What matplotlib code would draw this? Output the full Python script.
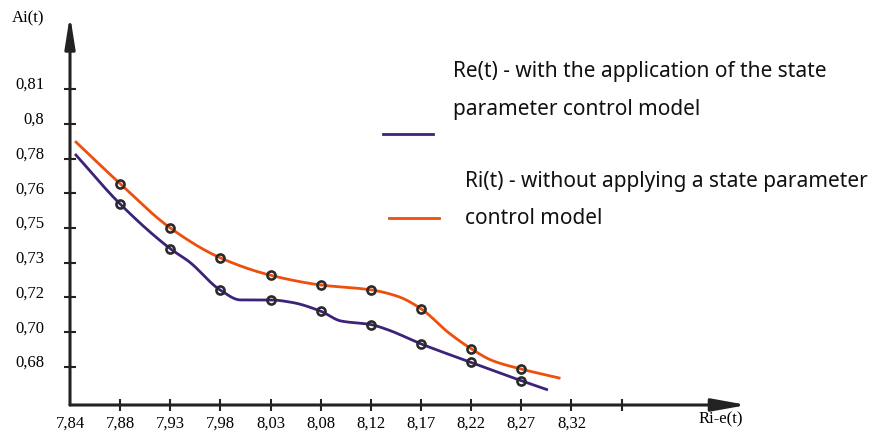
import numpy as np
import matplotlib
matplotlib.use("Agg")
import matplotlib.pyplot as plt
from matplotlib.lines import Line2D
from matplotlib.transforms import ScaledTranslation

# axis ticks (the original sketch spaces them evenly)
x_ticks = [7.84, 7.88, 7.93, 7.98, 8.03, 8.08, 8.12, 8.17, 8.22, 8.27, 8.32, 8.37]
x_labels = ['7,84', '7,88', '7,93', '7,98', '8,03', '8,08', '8,12', '8,17', '8,22', '8,27', '8,32', '']
y_ticks = [0.68, 0.70, 0.72, 0.73, 0.75, 0.76, 0.78, 0.80, 0.81]
y_labels = ['0,68', '0,70', '0,72', '0,73', '0,75', '0,76', '0,78', '0,8', '0,81']

# marked points
pts_x = [7.88, 7.93, 7.98, 8.03, 8.08, 8.12, 8.17, 8.22, 8.27]
ri_pts = [0.7655, 0.750, 0.7328, 0.7264, 0.7236, 0.7222, 0.7135, 0.6905, 0.6788]
re_pts = [0.7569, 0.7381, 0.7221, 0.7186, 0.7121, 0.7044, 0.6933, 0.6826, 0.6721]

# points (with the free ends)
ri_x = [7.844, 7.88, 7.93, 7.98, 8.03, 8.08, 8.12, 8.147, 8.17, 8.198, 8.22, 8.241, 8.27, 8.309]
ri_y = [0.790, 0.7655, 0.750, 0.7328, 0.7264, 0.7236, 0.7222, 0.7203, 0.7135, 0.6995, 0.6905, 0.6837, 0.6788, 0.6735]
re_x = [7.844, 7.88, 7.93, 7.949, 7.98, 8.0, 8.03, 8.051, 8.08, 8.096, 8.12, 8.137, 8.17, 8.22, 8.27, 8.2965]
re_y = [0.7826, 0.7569, 0.7381, 0.7305, 0.7221, 0.7186, 0.7186, 0.7172, 0.7121, 0.7065, 0.7044, 0.7014, 0.6933, 0.6826, 0.6721, 0.6668]

orange = '#ef4f0c'
purple = '#3c2279'
axis_c = '#222222'
W, H = 872, 432


def piecewise(v, xp, fp):
    # linear between the ticks, extended with the end slopes
    v = np.asarray(v, float)
    lo = fp[0] + (v - xp[0]) * (fp[1] - fp[0]) / (xp[1] - xp[0])
    hi = fp[-1] + (v - xp[-1]) * (fp[-1] - fp[-2]) / (xp[-1] - xp[-2])
    return np.where(v < xp[0], lo, np.where(v > xp[-1], hi, np.interp(v, xp, fp)))


x_idx = np.arange(len(x_ticks), dtype=float)
y_idx = np.arange(len(y_ticks), dtype=float)
fwd_x = lambda v: piecewise(v, x_ticks, x_idx)
inv_x = lambda p: piecewise(p, x_idx, x_ticks)
fwd_y = lambda v: piecewise(v, y_ticks, y_idx)
inv_y = lambda p: piecewise(p, y_idx, y_ticks)


def pchip(x, y, n=25):
    # monotone cubic, only for drawing a smooth line through the read points
    x = np.asarray(x, float); y = np.asarray(y, float)
    h = np.diff(x); d = np.diff(y) / h
    m = np.zeros_like(x)
    m[0], m[-1] = d[0], d[-1]
    for k in range(1, len(x) - 1):
        if d[k - 1] * d[k] > 0:
            w1 = 2 * h[k] + h[k - 1]
            w2 = h[k] + 2 * h[k - 1]
            m[k] = (w1 + w2) / (w1 / d[k - 1] + w2 / d[k])
    xs, ys = [], []
    for k in range(len(x) - 1):
        t = np.linspace(0, 1, n)
        h00 = 2 * t**3 - 3 * t**2 + 1
        h10 = t**3 - 2 * t**2 + t
        h01 = -2 * t**3 + 3 * t**2
        h11 = t**3 - t**2
        xs.append(x[k] + t * h[k])
        ys.append(h00 * y[k] + h10 * h[k] * m[k] + h01 * y[k + 1] + h11 * h[k] * m[k + 1])
    return np.concatenate(xs), np.concatenate(ys)


def smooth_curve(xv, yv):
    xs, ys = pchip(fwd_x(xv), fwd_y(yv))
    return inv_x(xs), inv_y(ys)


fig = plt.figure(figsize=(W / 100, H / 100), dpi=100)
ax = fig.add_axes([70 / W, 27 / H, 677 / W, 390 / H])
ax.set_xscale('function', functions=(fwd_x, inv_x))
ax.set_yscale('function', functions=(fwd_y, inv_y))
ax.set_xlim(float(inv_x(0)), float(inv_x(13.5)))
ax.set_ylim(float(inv_y(-1.094)), float(inv_y(10.13)))
for s in ax.spines.values():
    s.set_visible(False)

# axes with arrow heads
ax.annotate('', xy=(0, 1), xytext=(0, 0), xycoords='axes fraction',
            arrowprops=dict(arrowstyle='-|>,head_length=1.9,head_width=0.3', lw=2.2,
                            color=axis_c, shrinkA=0, shrinkB=0))
ax.annotate('', xy=(1, 0), xytext=(0, 0), xycoords='axes fraction',
            arrowprops=dict(arrowstyle='-|>,head_length=2.1,head_width=0.38', lw=2.2,
                            color=axis_c, shrinkA=0, shrinkB=0))

ax.set_xticks(x_ticks)
ax.set_xticklabels(x_labels, family='Liberation Serif', fontsize=12)
ax.set_yticks(y_ticks)
ax.set_yticklabels(y_labels, family='Liberation Serif', fontsize=12)
ax.tick_params(axis='x', direction='inout', length=9, width=1.5, color=axis_c, pad=3)
ax.tick_params(axis='y', direction='inout', length=9, width=1.5, color=axis_c, pad=14)
ax.xaxis.get_major_ticks()[0].tick1line.set_visible(False)
shift = ScaledTranslation(0, 6 / 100, fig.dpi_scale_trans)
for lab in ax.get_yticklabels():
    lab.set_transform(lab.get_transform() + shift)

cx, cy = smooth_curve(ri_x, ri_y)
ax.plot(cx, cy, color=orange, lw=2.0, solid_capstyle='butt', clip_on=False)
cx, cy = smooth_curve(re_x, re_y)
ax.plot(cx, cy, color=purple, lw=2.0, solid_capstyle='butt', clip_on=False)

ax.plot(pts_x, ri_pts, ls='none', marker='o', ms=5.8, mfc='none', mec='#2a2a2a', mew=1.9, zorder=5)
ax.plot(pts_x, re_pts, ls='none', marker='o', ms=5.8, mfc='none', mec='#2a2a2a', mew=1.9, zorder=5)

# axis names
fig.text(12 / W, 1 - 18 / H, 'Ai(t)', family='Liberation Serif', fontsize=12, va='center', ha='left')
fig.text(743 / W, 1 - 419 / H, 'Ri-e(t)', family='Liberation Serif', fontsize=12, va='center', ha='right')

# hand-drawn style legend
fig.add_artist(Line2D([383 / W, 433 / W], [1 - 134 / H] * 2, color=purple, lw=2.0))
fig.add_artist(Line2D([389 / W, 439 / W], [1 - 218 / H] * 2, color=orange, lw=2.0))
leg_font = dict(family='Noto Sans', fontsize=15, va='center', ha='left', color='#111111')
fig.text(453 / W, 1 - 72 / H, 'Re(t) - with the application of the state', **leg_font)
fig.text(453 / W, 1 - 110 / H, 'parameter control model', **leg_font)
fig.text(465 / W, 1 - 182 / H, 'Ri(t) - without applying a state parameter', **leg_font)
fig.text(465 / W, 1 - 218 / H, 'control model', **leg_font)

fig.savefig('out.png', dpi=100)
